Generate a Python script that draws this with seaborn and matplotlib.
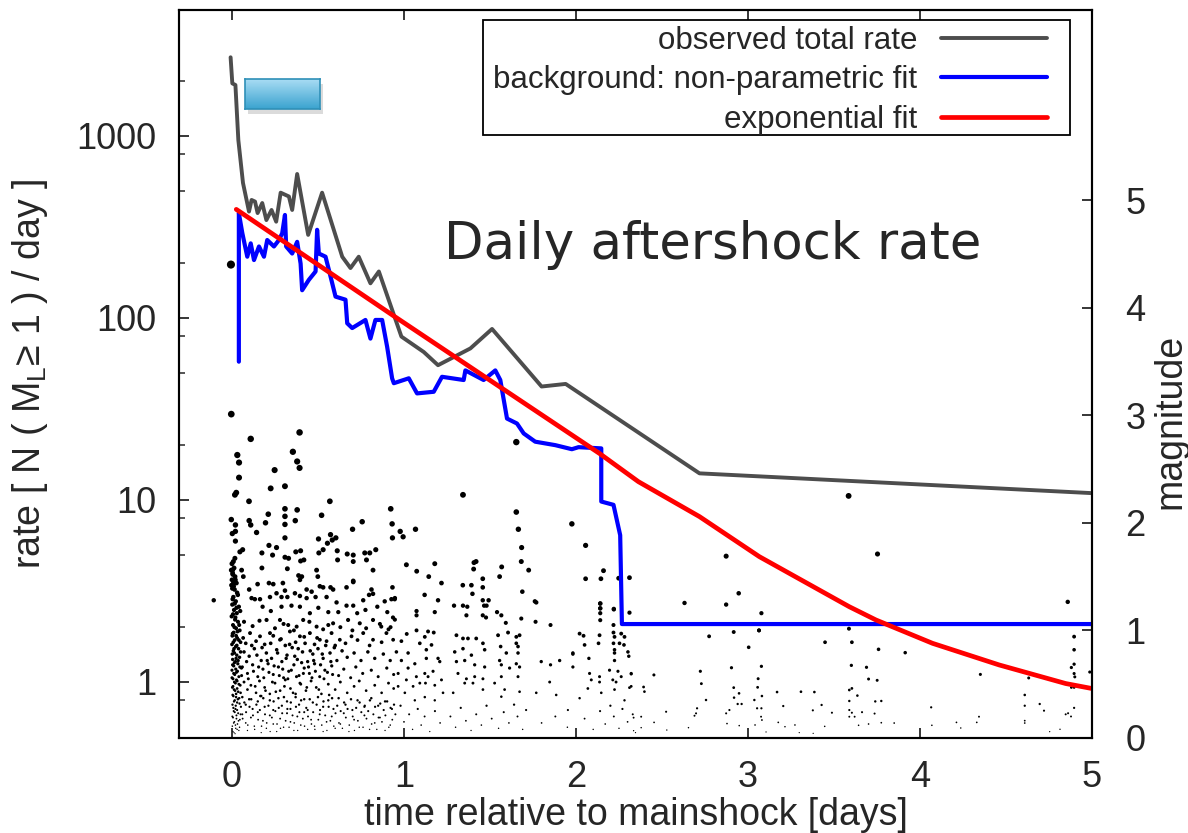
import numpy as np
import pandas as pd
import matplotlib
matplotlib.use("Agg")
import matplotlib.pyplot as plt
import seaborn as sns
from matplotlib.patches import Rectangle
from matplotlib.colors import LinearSegmentedColormap
from matplotlib.ticker import FixedLocator, NullFormatter, NullLocator

# ---------------- data ----------------
obs_t = [-0.008, 0.002, 0.02, 0.037, 0.064, 0.099, 0.114, 0.134, 0.149, 0.176, 0.200, 0.230,
         0.257, 0.283, 0.331, 0.350, 0.379, 0.443, 0.524, 0.641, 0.689, 0.737, 0.805, 0.854,
         0.985, 1.115, 1.198, 1.386, 1.512, 1.800, 1.940, 2.718, 5.0]
obs_rate = [2706, 1945, 1906, 950, 552, 384, 445, 436, 377, 428, 345, 392,
            338, 488, 465, 392, 618, 286, 488, 217, 188, 217, 155, 180,
            79, 65, 55, 68, 87, 42, 43.4, 14.0, 10.9]

bg_t = [0.04, 0.04, 0.06, 0.089, 0.109, 0.128, 0.157, 0.186, 0.205, 0.244, 0.273, 0.292,
        0.308, 0.315, 0.350, 0.379, 0.399, 0.408, 0.447, 0.486, 0.495, 0.505, 0.544, 0.573,
        0.602, 0.660, 0.670, 0.699, 0.776, 0.805, 0.834, 0.873, 0.902, 0.931, 0.941, 1.028,
        1.076, 1.173, 1.221, 1.347, 1.357, 1.463, 1.531, 1.560, 1.599, 1.657, 1.696, 1.763,
        1.880, 1.976, 2.015, 2.147, 2.147, 2.218, 2.257, 2.267, 5.0]
bg_rate = [57.5, 377, 293, 217, 257, 208, 247, 217, 268, 247, 268, 292,
           368, 247, 226, 262, 199, 142, 162, 180, 305, 226, 217, 169,
           131, 126, 93.5, 88, 97.5, 77, 97.5, 97.5, 69.5, 46.6, 43.8, 46.6,
           38.5, 39.3, 47.5, 45.6, 51.5, 45.6, 51.5, 45.6, 28, 26.3, 23.2, 20.9,
           20, 19, 19.5, 19.2, 9.8, 9.4, 6.4, 2.08, 2.08]

exp_t = [0.025, 0.931, 2.137, 2.363, 2.718, 3.066, 3.589, 3.744, 4.073, 4.46, 4.847, 5.0]
exp_rate = [395, 104, 18, 12.6, 8.1, 4.88, 2.59, 2.19, 1.63, 1.24, 0.98, 0.92]

# earthquakes: (time [days], magnitude)
quakes_large = [
    (-0.006, 4.40), (-0.004, 3.01), (0.393, 2.84), (0.109, 2.78), (1.653, 2.75), (0.354, 2.66),
    (0.031, 2.63), (0.379, 2.57), (0.041, 2.56), (0.393, 2.51), (0.248, 2.49), (0.041, 2.42),
    (0.308, 2.34), (0.225, 2.32), (0.025, 2.28), (0.017, 2.26), (1.343, 2.26), (3.585, 2.25),
    (0.099, 2.20), (0.569, 2.20), (0.923, 2.13), (0.308, 2.13), (0.379, 2.12), (1.653, 2.10),
    (0.211, 2.08), (0.521, 2.07), (0.308, 2.06), (-0.004, 2.03), (0.100, 2.02), (0.368, 2.02),
    (0.757, 2.01), (0.195, 2.00), (0.931, 1.99), (1.976, 1.99), (0.109, 1.98), (0.308, 1.985),
    (0.020, 1.98), (0.701, 1.94), (1.067, 1.94), (1.665, 1.94), (0.978, 1.92), (0.002, 1.90),
    (0.143, 1.91), (0.573, 1.89), (0.020, 1.92), (0.995, 1.87), (0.933, 1.86), (0.604, 1.86),
    (0.308, 1.86), (0.503, 1.85), (0.583, 1.84), (0.020, 1.83), (0.555, 1.81), (2.056, 1.79),
    (0.215, 1.79), (1.684, 1.77), (0.259, 1.77), (0.062, 1.75), (0.530, 1.75), (0.836, 1.75),
    (0.046, 1.73), (0.399, 1.74), (0.612, 1.74), (0.371, 1.73), (0.174, 1.72), (0.505, 1.72),
    (0.772, 1.72), (0.801, 1.72), (0.670, 1.71), (0.236, 1.70), (0.705, 1.70), (2.873, 1.69),
    (3.753, 1.71), (0.017, 1.67), (0.308, 1.68), (0.329, 1.67), (0.008, 1.64), (0.399, 1.645),
    (0.418, 1.655), (0.614, 1.655), (0.705, 1.64), (0.782, 1.655), (1.419, 1.64), (1.682, 1.64),
    (1.407, 1.63), (1.014, 1.61), (1.179, 1.62), (0.174, 1.58), (0.322, 1.573), (1.568, 1.59),
    (1.405, 1.57), (-0.004, 1.56), (0.056, 1.56), (0.492, 1.56), (0.820, 1.56), (1.725, 1.56),
    (2.160, 1.555), (1.074, 1.55), (0.004, 1.53), (0.387, 1.51), (0.066, 1.50), (0.406, 1.50),
    (0.499, 1.50), (1.144, 1.50), (1.556, 1.50), (2.311, 1.49), (2.056, 1.48), (2.145, 1.48),
    (2.248, 1.485), (1.458, 1.48), (0.395, 1.47), (0.000, 1.47), (0.705, 1.46),
]

quakes_mid = [
    (0.008, 1.44), (0.215, 1.44), (0.296, 1.44), (1.218, 1.44), (0.149, 1.43), (0.240, 1.43),
    (0.705, 1.45), (1.342, 1.42), (1.392, 1.42), (0.511, 1.41), (0.530, 1.40), (0.573, 1.40),
    (0.666, 1.40), (0.933, 1.40), (1.458, 1.40), (0.002, 1.39), (0.100, 1.38), (0.434, 1.38),
    (0.588, 1.38), (0.811, 1.38), (0.308, 1.37), (0.463, 1.36), (1.688, 1.36), (0.259, 1.345),
    (0.366, 1.345), (2.946, 1.345), (0.820, 1.34), (1.398, 1.34), (1.120, 1.33), (0.797, 1.33),
    (0.395, 1.32), (0.221, 1.31), (0.288, 1.31), (0.322, 1.31), (0.486, 1.31), (0.550, 1.31),
    (0.114, 1.30), (0.434, 1.30), (0.947, 1.30), (0.133, 1.29), (0.163, 1.29), (0.927, 1.29),
    (0.946, 1.29), (-0.106, 1.28), (0.763, 1.28), (1.198, 1.28), (1.458, 1.28), (1.492, 1.28),
    (0.888, 1.27), (1.761, 1.27), (4.859, 1.265), (1.769, 1.26), (0.608, 1.26), (2.631, 1.255),
    (2.141, 1.25), (2.873, 1.24), (0.346, 1.23), (0.666, 1.23), (0.705, 1.23), (1.291, 1.23),
    (1.343, 1.23), (1.466, 1.23), (1.480, 1.23), (0.178, 1.22), (0.288, 1.22), (0.395, 1.22),
    (0.845, 1.22), (1.368, 1.22), (0.502, 1.21), (2.141, 1.205), (2.220, 1.20), (0.776, 1.19),
    (0.226, 1.18), (1.073, 1.18), (1.179, 1.17), (0.560, 1.17), (0.618, 1.17), (0.903, 1.17),
    (1.541, 1.17), (2.311, 1.165), (0.453, 1.16), (0.728, 1.16), (2.141, 1.16), (3.078, 1.16),
    (1.363, 1.14), (1.458, 1.14), (1.566, 1.14), (1.073, 1.14), (0.936, 1.12), (1.477, 1.12),
    (1.682, 1.11), (0.947, 1.10), (0.201, 1.097), (0.279, 1.097), (0.414, 1.097), (0.675, 1.097),
    (0.820, 1.097), (2.141, 1.095), (1.765, 1.08), (0.588, 1.066), (0.743, 1.066), (1.592, 1.07),
    (0.327, 1.05), (1.852, 1.05), (2.218, 1.05), (0.376, 1.035), (0.492, 1.035), (0.868, 1.035),
    (0.922, 1.03), (3.587, 1.016), (3.064, 1.00), (1.073, 1.00), (0.07, 1.08), (0.12, 1.04),
    (0.16, 1.09), (0.25, 1.02), (0.30, 1.06), (0.36, 1.00), (0.45, 1.08), (0.53, 1.01),
    (0.56, 1.05), (0.63, 1.03), (0.70, 1.00), (0.78, 1.02), (0.86, 1.06), (0.91, 1.01),
]

quakes_day0_column = [
    (0.000, 1.62), (0.012, 1.58), (0.005, 1.52), (0.020, 1.47), (-0.003, 1.42), (0.015, 1.38),
    (0.030, 1.35), (0.008, 1.31), (0.022, 1.27), (0.002, 1.24), (0.040, 1.22), (0.012, 1.19),
    (0.028, 1.16), (-0.002, 1.13), (0.018, 1.10), (0.035, 1.08), (0.006, 1.05), (0.024, 1.02),
    (0.045, 1.00), (0.010, 0.98), (0.002, 0.95), (0.030, 0.93), (0.016, 0.91), (0.050, 0.89),
    (0.000, 0.87), (0.022, 0.85), (0.038, 0.83), (0.008, 0.81), (0.014, 0.79), (0.028, 0.77),
    (0.044, 0.75), (0.004, 0.73), (0.020, 0.71), (0.034, 0.69), (0.010, 0.67), (0.055, 0.65),
    (0.000, 0.63), (0.026, 0.61), (0.016, 0.59), (0.040, 0.57), (0.006, 0.55), (0.030, 0.53),
    (0.020, 0.51), (0.048, 0.49), (0.002, 0.47), (0.012, 0.45), (0.036, 0.43), (0.024, 0.41),
    (0.008, 0.39), (0.042, 0.37), (0.016, 0.35), (0.030, 0.33), (0.003, 0.31), (0.052, 0.29),
    (0.020, 0.27), (0.010, 0.25), (0.036, 0.23), (0.026, 0.21), (0.006, 0.19), (0.046, 0.17),
    (0.014, 0.15), (0.032, 0.13), (0.002, 0.11), (0.022, 0.09), (0.040, 0.07), (0.012, 0.05),
    (0.004, 1.56), (0.018, 1.50), (0.026, 1.44), (0.010, 1.41), (0.034, 1.33), (0.004, 1.29),
    (0.016, 1.25), (0.026, 1.21), (0.048, 1.18), (0.006, 1.15), (0.020, 1.12), (0.042, 1.05),
    (0.014, 1.03), (0.032, 0.99), (0.004, 0.97), (0.024, 0.95), (0.040, 0.91), (0.008, 0.89),
    (0.028, 0.86), (0.012, 0.83), (0.050, 0.80), (0.002, 0.78), (0.024, 0.74), (0.036, 0.72),
    (0.014, 0.70), (0.004, 0.68), (0.046, 0.66), (0.022, 0.64), (0.032, 0.62), (0.010, 0.60),
    (0.056, 0.58), (0.000, 0.56), (0.026, 0.54), (0.014, 0.52), (0.040, 0.50), (0.006, 0.48),
    (0.030, 0.46), (0.018, 0.44), (0.050, 0.42), (0.004, 0.40), (0.024, 0.38), (0.034, 0.36),
    (0.012, 0.34), (0.044, 0.32), (0.022, 0.30), (0.008, 0.28), (0.030, 0.26), (0.016, 0.24),
    (0.050, 0.22), (0.002, 0.20), (0.026, 0.18), (0.038, 0.16), (0.010, 0.14), (0.020, 0.12),
    (0.044, 0.10), (0.030, 0.08), (0.006, 0.06), (0.018, 0.04),
]

quakes_day0_field = [
    (0.105, 0.975), (0.163, 0.945), (0.221, 0.975), (0.279, 0.913), (0.337, 0.99), (0.395, 0.945),
    (0.453, 0.975), (0.511, 0.913), (0.579, 0.975), (0.627, 0.913), (0.695, 0.945), (0.763, 0.975),
    (0.82, 0.913), (0.898, 0.975), (0.937, 0.913), (0.08, 0.88), (0.14, 0.90), (0.19, 0.87),
    (0.24, 0.95), (0.31, 0.86), (0.37, 0.89), (0.42, 0.94), (0.48, 0.87), (0.55, 0.90),
    (0.60, 0.86), (0.66, 0.88), (0.73, 0.91), (0.80, 0.86), (0.87, 0.89),
    (0.07, 0.80), (0.10, 0.76), (0.13, 0.83), (0.17, 0.72), (0.20, 0.79), (0.23, 0.74),
    (0.26, 0.82), (0.29, 0.71), (0.32, 0.77), (0.35, 0.84), (0.38, 0.73), (0.41, 0.80),
    (0.44, 0.71), (0.47, 0.78), (0.50, 0.83), (0.53, 0.74), (0.57, 0.79), (0.61, 0.72),
    (0.64, 0.81), (0.67, 0.75), (0.71, 0.79), (0.75, 0.72), (0.79, 0.80), (0.83, 0.74),
    (0.88, 0.78), (0.92, 0.72),
    (0.06, 0.66), (0.09, 0.60), (0.12, 0.68), (0.15, 0.57), (0.18, 0.64), (0.21, 0.69),
    (0.24, 0.59), (0.27, 0.66), (0.30, 0.56), (0.33, 0.62), (0.36, 0.68), (0.39, 0.58),
    (0.42, 0.65), (0.45, 0.60), (0.48, 0.69), (0.51, 0.57), (0.54, 0.63), (0.58, 0.67),
    (0.62, 0.58), (0.65, 0.64), (0.69, 0.56), (0.72, 0.66), (0.76, 0.60), (0.81, 0.63),
    (0.85, 0.57), (0.90, 0.65), (0.94, 0.59),
    (0.07, 0.52), (0.09, 0.45), (0.11, 0.49), (0.14, 0.42), (0.16, 0.53), (0.19, 0.47),
    (0.22, 0.41), (0.25, 0.51), (0.28, 0.44), (0.31, 0.54), (0.34, 0.46), (0.37, 0.41),
    (0.40, 0.50), (0.43, 0.44), (0.46, 0.53), (0.49, 0.47), (0.52, 0.41), (0.56, 0.50),
    (0.60, 0.45), (0.63, 0.52), (0.67, 0.42), (0.71, 0.48), (0.74, 0.53), (0.78, 0.44),
    (0.83, 0.49), (0.87, 0.42), (0.91, 0.51), (0.94, 0.46),
    (0.06, 0.38), (0.08, 0.31), (0.10, 0.36), (0.12, 0.27), (0.15, 0.34), (0.17, 0.39),
    (0.19, 0.29), (0.22, 0.35), (0.24, 0.26), (0.27, 0.37), (0.29, 0.30), (0.32, 0.34),
    (0.34, 0.27), (0.37, 0.38), (0.39, 0.31), (0.42, 0.36), (0.44, 0.26), (0.47, 0.33),
    (0.50, 0.38), (0.53, 0.29), (0.56, 0.35), (0.59, 0.27), (0.62, 0.37), (0.66, 0.31),
    (0.70, 0.26), (0.73, 0.35), (0.77, 0.29), (0.81, 0.37), (0.85, 0.30), (0.89, 0.34),
    (0.93, 0.27),
    (0.06, 0.22), (0.08, 0.14), (0.09, 0.07), (0.11, 0.19), (0.13, 0.11), (0.15, 0.24),
    (0.17, 0.05), (0.18, 0.16), (0.20, 0.09), (0.22, 0.21), (0.24, 0.13), (0.26, 0.06),
    (0.28, 0.18), (0.30, 0.10), (0.32, 0.23), (0.34, 0.15), (0.36, 0.07), (0.38, 0.20),
    (0.40, 0.12), (0.42, 0.24), (0.44, 0.08), (0.46, 0.17), (0.48, 0.11), (0.51, 0.22),
    (0.53, 0.06), (0.55, 0.15), (0.58, 0.20), (0.60, 0.09), (0.63, 0.13), (0.65, 0.23),
    (0.68, 0.06), (0.71, 0.17), (0.74, 0.10), (0.77, 0.21), (0.80, 0.08), (0.83, 0.14),
    (0.86, 0.19), (0.89, 0.07), (0.92, 0.12), (0.95, 0.22),
]

quakes_day0_dense = [
    (0.065, 0.93), (0.085, 0.71), (0.095, 0.55), (0.115, 0.86), (0.125, 0.62), (0.135, 0.48),
    (0.145, 0.77), (0.155, 0.66), (0.165, 0.39), (0.175, 0.84), (0.185, 0.56), (0.195, 0.44),
    (0.205, 0.72), (0.215, 0.61), (0.225, 0.88), (0.235, 0.52), (0.245, 0.67), (0.255, 0.43),
    (0.265, 0.79), (0.275, 0.58), (0.285, 0.92), (0.295, 0.64), (0.305, 0.48), (0.315, 0.74),
    (0.325, 0.55), (0.335, 0.87), (0.345, 0.63), (0.355, 0.42), (0.365, 0.76), (0.375, 0.57),
    (0.385, 0.83), (0.395, 0.51), (0.405, 0.70), (0.415, 0.60), (0.425, 0.88), (0.435, 0.47),
    (0.445, 0.66), (0.455, 0.81), (0.465, 0.56), (0.475, 0.72), (0.485, 0.62), (0.495, 0.93),
    (0.505, 0.45), (0.515, 0.68), (0.525, 0.78), (0.535, 0.55), (0.545, 0.86), (0.555, 0.61),
    (0.565, 0.40), (0.575, 0.71), (0.585, 0.59), (0.595, 0.84),
    (0.062, 0.18), (0.072, 0.33), (0.082, 0.24), (0.092, 0.12), (0.102, 0.29), (0.112, 0.36),
    (0.122, 0.21), (0.132, 0.08), (0.142, 0.31), (0.152, 0.17), (0.162, 0.26), (0.172, 0.11),
    (0.182, 0.37), (0.192, 0.22), (0.202, 0.14), (0.212, 0.30), (0.222, 0.06), (0.232, 0.19),
    (0.242, 0.34), (0.252, 0.25), (0.262, 0.13), (0.272, 0.28), (0.282, 0.09), (0.292, 0.23),
    (0.302, 0.38), (0.312, 0.16), (0.322, 0.27), (0.332, 0.10), (0.342, 0.33), (0.352, 0.21),
    (0.362, 0.14), (0.372, 0.29), (0.382, 0.07), (0.392, 0.24), (0.402, 0.35), (0.412, 0.18),
    (0.422, 0.11), (0.432, 0.28), (0.442, 0.20), (0.452, 0.36), (0.462, 0.13), (0.472, 0.24),
    (0.482, 0.08), (0.492, 0.31), (0.502, 0.17), (0.512, 0.26), (0.522, 0.12), (0.532, 0.34),
    (0.542, 0.21), (0.552, 0.07), (0.562, 0.29), (0.572, 0.16), (0.582, 0.37), (0.592, 0.11),
    (0.602, 0.23), (0.612, 0.30), (0.622, 0.14), (0.632, 0.25), (0.642, 0.09), (0.652, 0.33),
    (0.662, 0.19), (0.672, 0.27), (0.682, 0.12), (0.692, 0.36), (0.702, 0.20), (0.712, 0.07),
    (0.722, 0.28), (0.732, 0.16), (0.742, 0.33), (0.752, 0.24), (0.762, 0.10), (0.772, 0.30),
    (0.782, 0.18), (0.792, 0.25), (0.802, 0.35), (0.812, 0.13), (0.822, 0.22), (0.832, 0.29),
    (0.842, 0.08), (0.852, 0.19), (0.862, 0.32), (0.872, 0.15), (0.882, 0.26), (0.892, 0.21),
    (0.902, 0.34), (0.912, 0.10), (0.922, 0.28), (0.932, 0.17), (0.942, 0.31),
]

quakes_day1 = [
    (1.016, 0.967), (1.092, 0.88), (1.121, 0.94), (1.14, 0.99), (1.173, 0.98), (1.16, 0.865),
    (0.985, 0.90), (1.024, 0.79), (1.13, 0.82), (1.198, 0.74), (1.208, 0.71), (1.063, 0.69),
    (1.13, 0.74), (1.169, 0.62), (1.024, 0.65), (1.072, 0.57), (1.121, 0.60), (1.125, 0.51),
    (1.305, 0.955), (1.343, 0.925), (1.372, 0.925), (1.42, 0.925), (1.459, 0.88), (1.295, 0.80),
    (1.343, 0.83), (1.392, 0.77), (1.469, 0.82), (1.305, 0.71), (1.353, 0.72), (1.411, 0.68),
    (1.469, 0.66), (1.314, 0.60), (1.363, 0.55), (1.411, 0.57), (1.459, 0.55), (1.353, 0.51),
    (1.401, 0.51), (1.459, 0.45), (1.286, 0.42),
    (1.547, 0.955), (1.605, 0.98), (1.653, 0.94), (1.672, 0.955), (1.653, 0.88), (1.663, 0.85),
    (1.562, 0.85), (1.556, 0.72), (1.566, 0.68), (1.595, 0.79), (1.663, 0.79), (1.653, 0.69),
    (1.672, 0.66), (1.614, 0.65), (1.566, 0.57), (1.663, 0.57), (1.527, 0.51), (1.585, 0.45),
    (1.672, 0.43), (1.566, 0.384),
    (2.021, 0.97), (2.044, 0.95), (2.05, 0.865), (2.075, 0.74), (2.141, 1.25), (2.141, 1.205),
    (2.137, 0.955), (2.131, 0.88), (2.22, 1.195), (2.218, 0.98), (2.224, 0.94), (2.218, 0.88),
    (2.224, 0.82), (2.224, 0.79), (2.224, 0.72), (2.263, 0.97), (2.282, 0.94), (2.253, 0.88),
    (2.279, 0.865), (2.302, 0.80), (2.307, 0.76), (2.195, 0.63), (2.244, 0.62), (2.214, 0.54),
    (2.233, 0.52), (2.263, 0.57), (2.321, 0.60), (2.079, 0.60), (2.089, 0.54), (2.069, 0.46),
    (2.137, 0.57), (2.137, 0.52), (2.147, 0.42), (2.224, 0.45), (2.282, 0.35), (2.321, 0.48),
    (1.798, 0.71), (1.852, 0.68), (1.905, 0.72), (1.982, 0.79), (1.847, 0.52), (1.885, 0.40),
    (1.769, 0.42), (1.953, 0.26), (2.021, 0.37), (1.982, 0.78), (1.982, 0.66),
    (0.956, 0.80), (0.985, 0.72), (0.966, 0.60), (1.014, 0.54), (1.053, 0.48), (1.092, 0.51),
    (1.14, 0.57), (1.179, 0.49), (1.218, 0.54), (1.227, 0.42), (1.005, 0.42), (1.063, 0.35),
    (1.121, 0.38), (0.966, 0.48), (1.179, 0.35),
    (0.98, 0.30), (1.00, 0.15), (1.03, 0.22), (1.05, 0.08), (1.08, 0.27), (1.10, 0.12),
    (1.12, 0.20), (1.15, 0.06), (1.18, 0.25), (1.21, 0.14), (1.27, 0.20), (1.30, 0.10),
    (1.33, 0.28), (1.36, 0.16), (1.39, 0.07), (1.42, 0.22), (1.45, 0.12), (1.48, 0.30),
    (1.51, 0.18), (1.55, 0.09), (1.58, 0.24), (1.61, 0.14), (1.64, 0.31), (1.66, 0.20),
    (1.69, 0.08), (1.71, 0.26), (1.80, 0.14), (1.88, 0.20), (1.95, 0.10), (2.05, 0.18),
    (2.10, 0.08), (2.14, 0.25), (2.17, 0.13), (2.20, 0.30), (2.22, 0.20), (2.25, 0.09),
    (2.27, 0.27), (2.30, 0.15), (2.33, 0.22),
]

quakes_late = [
    (2.774, 0.945), (2.917, 0.985), (3.064, 1.0), (3.004, 0.843), (3.604, 0.89), (3.448, 0.89),
    (3.601, 0.675), (2.904, 0.653), (3.078, 0.666), (2.723, 0.62), (2.321, 0.595), (2.453, 0.586),
    (3.059, 0.551), (2.729, 0.505), (2.311, 0.468), (2.393, 0.474), (2.398, 0.431), (2.917, 0.468),
    (2.948, 0.415), (2.919, 0.375), (3.081, 0.39), (3.056, 0.471), (3.037, 0.353), (3.169, 0.427),
    (3.308, 0.43), (3.386, 0.427), (3.589, 0.446), (3.604, 0.461), (3.589, 0.344), (3.636, 0.394),
    (2.756, 0.353), (2.94, 0.316), (2.963, 0.316), (2.704, 0.276), (2.698, 0.229), (2.689, 0.207),
    (2.524, 0.244), (2.379, 0.198), (2.335, 0.189), (2.873, 0.229), (2.892, 0.26), (3.053, 0.276),
    (3.078, 0.276), (3.076, 0.198), (3.081, 0.167), (3.205, 0.297), (3.377, 0.257), (3.428, 0.307),
    (3.488, 0.235), (3.589, 0.26), (3.604, 0.235), (3.589, 0.198), (3.62, 0.198), (2.454, 0.145),
    (2.528, 0.074), (2.379, 0.096), (2.335, 0.068), (2.654, 0.096), (2.878, 0.134), (2.949, 0.115),
    (3.041, 0.121), (3.105, 0.056), (3.176, 0.145), (3.215, 0.105), (3.273, 0.121), (3.298, 0.05),
    (3.379, 0.043), (3.446, 0.108), (3.643, 0.118), (2.346, 0.05),
    (4.896, 0.942), (4.896, 0.82), (4.896, 0.686), (4.880, 0.655), (4.896, 0.599), (4.9, 0.568),
    (4.880, 0.47), (4.896, 0.47), (4.896, 0.28), (4.878, 0.2), (4.847, 0.22), (4.861, 0.23),
    (4.987, 0.613), (3.759, 0.824), (3.914, 0.793), (3.689, 0.657), (3.701, 0.548), (3.751, 0.536),
    (3.74, 0.34), (3.775, 0.344), (3.663, 0.24), (3.736, 0.227), (3.775, 0.142), (3.701, 0.130),
    (3.85, 0.139), (4.065, 0.285), (4.069, 0.118), (4.351, 0.591), (4.343, 0.198), (4.33, 0.145),
    (4.212, 0.145), (4.237, 0.093), (4.632, 0.558), (4.609, 0.40), (4.609, 0.30), (4.609, 0.161),
    (4.609, 0.139), (4.696, 0.316), (4.721, 0.254), (4.754, 0.059), (4.814, 0.081),
]

legend_labels = ["observed total rate", "background: non-parametric fit", "exponential fit"]
rate_ticks = [1, 10, 100, 1000]
rate_minor_ticks = [0.8, 2, 5, 8, 20, 50, 80, 200, 500, 800, 2000]
mag_ticks = [0, 1, 2, 3, 4, 5]
time_ticks = [0, 1, 2, 3, 4, 5]

# ---------------- figure ----------------
sns.set_style("white")
plt.rcParams["font.family"] = ["Liberation Sans", "DejaVu Sans"]
plt.rcParams["mathtext.default"] = "regular"

fig = plt.figure(figsize=(11.88, 8.33), dpi=100)
ax_mag = fig.add_axes([0.15067, 0.11405, 0.76852, 0.87395])
ax_rate = ax_mag.twinx()

quakes = pd.DataFrame(quakes_large + quakes_mid + quakes_day0_column + quakes_day0_field
                      + quakes_day0_dense + quakes_day1 + quakes_late, columns=["t", "m"])
sns.scatterplot(data=quakes, x="t", y="m", size="m", sizes=(0.8, 34), size_norm=(0.05, 4.4),
                color="black", linewidth=0, legend=False, ax=ax_mag)

sns.lineplot(x=obs_t, y=obs_rate, sort=False, estimator=None, color="#4d4d4d", linewidth=2.8,
             label=legend_labels[0], ax=ax_rate)
sns.lineplot(x=bg_t, y=bg_rate, sort=False, estimator=None, color="#0000ff", linewidth=3.0,
             label=legend_labels[1], ax=ax_rate)
sns.lineplot(x=exp_t, y=exp_rate, sort=False, estimator=None, color="#ff0000", linewidth=3.4,
             label=legend_labels[2], ax=ax_rate)

# axes limits and scales
ax_mag.set_xlim(-0.308, 5.0)
ax_mag.set_ylim(0, 6.766)
ax_rate.set_yscale("log")
ax_rate.set_ylim(0.492, 4922)

# magnitude axis on the right
ax_mag.yaxis.tick_right()
ax_mag.yaxis.set_label_position("right")
ax_mag.set_yticks(mag_ticks)
ax_mag.set_yticklabels([str(v) for v in mag_ticks])
ax_mag.set_xticks(time_ticks)
ax_mag.set_xticklabels([str(v) for v in time_ticks])
ax_mag.tick_params(axis="y", which="major", direction="in", length=7.5, width=1.3,
                   labelsize=26, pad=24, right=True, left=False)
ax_mag.tick_params(axis="x", which="major", direction="in", length=7.5, width=1.3,
                   labelsize=26, pad=16, top=True, bottom=True)
ax_mag.xaxis.set_minor_locator(NullLocator())
ax_mag.yaxis.set_minor_locator(NullLocator())

# rate axis on the left
ax_rate.yaxis.tick_left()
ax_rate.yaxis.set_label_position("left")
ax_rate.yaxis.set_major_locator(FixedLocator(rate_ticks))
ax_rate.set_yticklabels([str(v) for v in rate_ticks])
ax_rate.yaxis.set_minor_locator(FixedLocator(rate_minor_ticks))
ax_rate.yaxis.set_minor_formatter(NullFormatter())
ax_rate.tick_params(axis="y", which="major", direction="in", length=7.5, width=1.3,
                    labelsize=26, pad=16, left=True, right=False)
ax_rate.tick_params(axis="y", which="minor", direction="in", length=4, width=1.1,
                    left=True, right=False)

for a in (ax_mag, ax_rate):
    for s in a.spines.values():
        s.set_color("black")
        s.set_linewidth(1.5)

ax_mag.set_xlabel("time relative to mainshock [days]", fontsize=27)
ax_mag.set_ylabel("magnitude", fontsize=27)
ax_rate.set_ylabel("rate [ N ( M$_L$≥ 1 ) / day ]", fontsize=27)
ax_mag.xaxis.set_label_coords(0.5, -0.081)
ax_mag.yaxis.set_label_coords(1.066, 0.435)
ax_rate.yaxis.set_label_coords(-0.141, 0.50)

# legend with a hand-placed frame
frame = Rectangle((0.333, 0.8283), 0.643, 0.158, transform=ax_rate.transAxes,
                  facecolor="white", edgecolor="black", linewidth=1.3, zorder=4.9)
ax_rate.add_patch(frame)
leg = ax_rate.legend(loc="upper right", bbox_to_anchor=(0.9507, 0.978), markerfirst=False,
                     frameon=False, fontsize=22.5, handlelength=3.4, handletextpad=0.75,
                     labelspacing=0.3, borderpad=0, borderaxespad=0)
leg.set_zorder(5)

# annotation text
ax_rate.text(0.584, 0.677, "Daily aftershock rate", transform=ax_rate.transAxes,
             ha="center", va="center", fontsize=37, family=["DejaVu Sans"])

# decorative blue button with a soft shadow
bx0, by0, bw, bh = 245 / 1188, 1 - 109 / 833, 75 / 1188, 30 / 833
shadow = Rectangle((bx0 + 3 / 1188, by0 - 5 / 833), bw, bh, transform=fig.transFigure,
                   facecolor="#9a9a9a", alpha=0.35, edgecolor="none", zorder=0.5)
fig.patches.append(shadow)
bax = fig.add_axes([bx0, by0, bw, bh], zorder=1)
grad = np.linspace(0, 1, 64).reshape(-1, 1)
cmap = LinearSegmentedColormap.from_list("btn", ["#a8dcf4", "#3ba3cf"])
bax.imshow(grad, aspect="auto", cmap=cmap, extent=(0, 1, 0, 1), origin="upper")
bax.set_xticks([])
bax.set_yticks([])
for s in bax.spines.values():
    s.set_color("#2f90b8")
    s.set_linewidth(1.2)

fig.savefig("out.png", dpi=100)
